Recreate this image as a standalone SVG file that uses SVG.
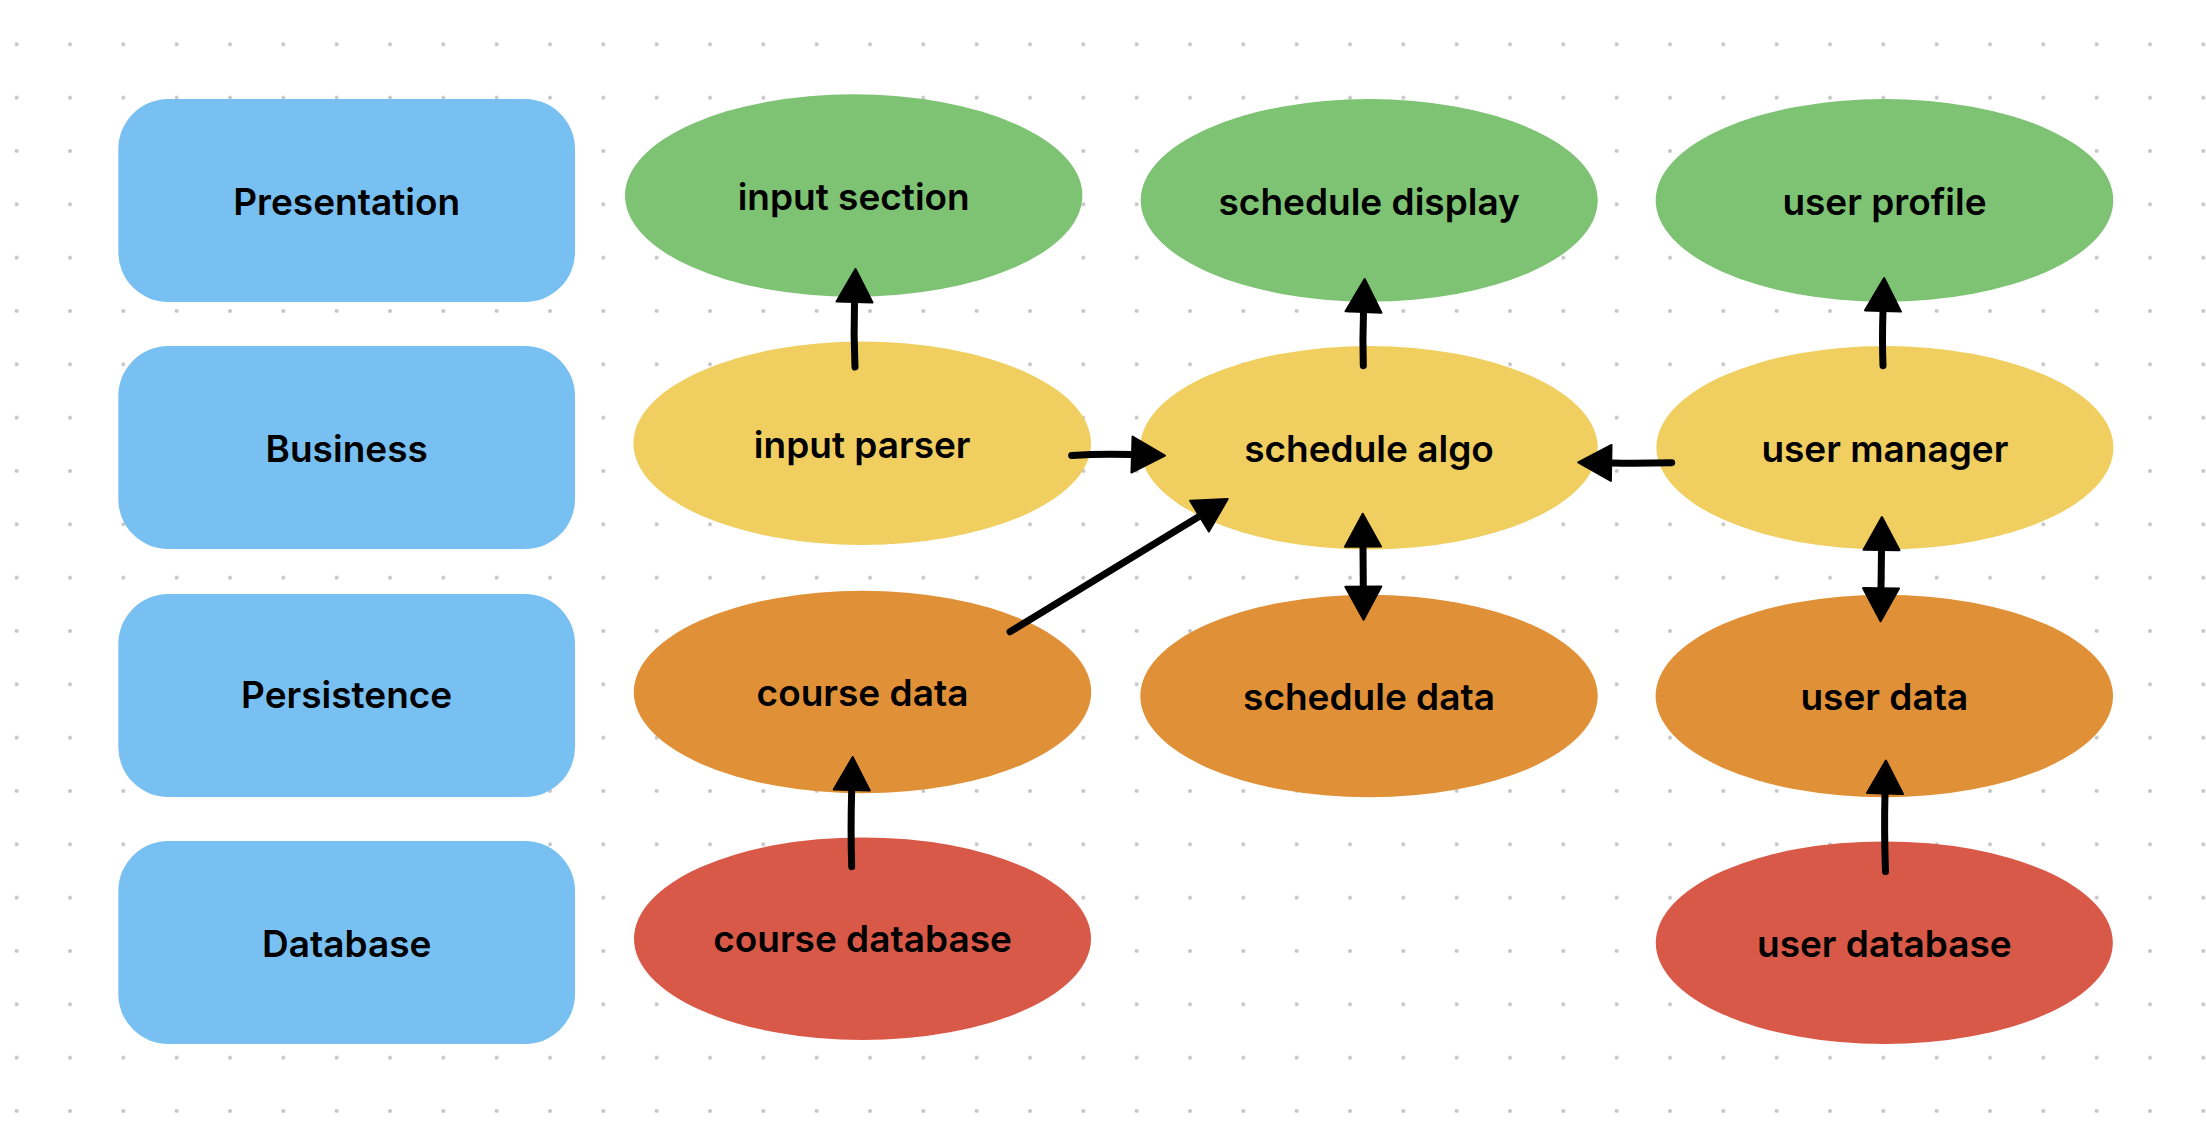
<svg xmlns="http://www.w3.org/2000/svg" width="2206" height="1138" viewBox="0 0 2206 1138">
  <style>
    .layer { fill: #78C0F1; }
    .pres { fill: #7DC373; }
    .biz { fill: #F0CF60; }
    .pers { fill: #E09036; }
    .db { fill: #D95948; }
    text { font-family: Inter, "Noto Sans", "Liberation Sans", sans-serif; font-weight: 600; font-size: 37px; fill: #000; text-anchor: middle; }
    .conn { fill: none; stroke: #000; stroke-width: 7; stroke-linecap: round; stroke-linejoin: round; }
  </style>
  <defs>
    <pattern id="dots" x="-10" y="17.67" width="53.333" height="53.333" patternUnits="userSpaceOnUse">
      <circle cx="26.67" cy="26.67" r="2" fill="#C4C4C4"/>
    </pattern>
    <marker id="head" markerUnits="userSpaceOnUse" viewBox="-2 -20 38 40" refX="0" refY="0" markerWidth="38" markerHeight="40" orient="auto-start-reverse" overflow="visible">
      <path d="M0,-18 L33,0 L0,18 Z" fill="#000" stroke="#000" stroke-width="2" stroke-linejoin="round"/>
    </marker>
  </defs>
  <rect width="2206" height="1138" fill="#FFFFFF"/>
  <rect width="2206" height="1138" fill="url(#dots)"/>

  <g id="layer-presentation"><rect class="layer" x="118.3" y="99" width="456.7" height="203" rx="50"/><text x="346.7" y="214.5">Presentation</text></g>
  <g id="layer-business"><rect class="layer" x="118.3" y="346" width="456.7" height="203" rx="50"/><text x="346.7" y="461.7">Business</text></g>
  <g id="layer-persistence"><rect class="layer" x="118.3" y="594" width="456.7" height="203" rx="50"/><text x="346.7" y="708.3">Persistence</text></g>
  <g id="layer-database"><rect class="layer" x="118.3" y="841" width="456.7" height="203" rx="50"/><text x="346.7" y="956.7">Database</text></g>

  <g id="input-section"><ellipse class="pres" cx="853.7" cy="195.5" rx="228.7" ry="101.2"/><text x="853.7" y="210">input section</text></g>
  <g id="schedule-display"><ellipse class="pres" cx="1369.2" cy="200.3" rx="228.5" ry="101.3"/><text x="1369.2" y="215">schedule display</text></g>
  <g id="user-profile"><ellipse class="pres" cx="1884.5" cy="200.3" rx="228.8" ry="101.3"/><text x="1884.5" y="215">user profile</text></g>

  <g id="input-parser"><ellipse class="biz" cx="862.2" cy="443.3" rx="228.8" ry="101.7"/><text x="862.2" y="457.7">input parser</text></g>
  <g id="schedule-algo"><ellipse class="biz" cx="1369" cy="447.7" rx="228.7" ry="101.7"/><text x="1369" y="461.7">schedule algo</text></g>
  <g id="user-manager"><ellipse class="biz" cx="1884.9" cy="447.7" rx="228.5" ry="101.7"/><text x="1884.9" y="462.2">user manager</text></g>

  <g id="course-data"><ellipse class="pers" cx="862.5" cy="692" rx="228.7" ry="101.3"/><text x="862.5" y="706">course data</text></g>
  <g id="schedule-data"><ellipse class="pers" cx="1369" cy="696" rx="228.7" ry="101.3"/><text x="1369" y="710">schedule data</text></g>
  <g id="user-data"><ellipse class="pers" cx="1884.3" cy="696" rx="228.7" ry="101.3"/><text x="1884.3" y="710">user data</text></g>

  <g id="course-database"><ellipse class="db" cx="862.5" cy="938.7" rx="228.5" ry="101.3"/><text x="862.5" y="952">course database</text></g>
  <g id="user-database"><ellipse class="db" cx="1884.3" cy="942.7" rx="228.5" ry="101.3"/><text x="1884.3" y="957">user database</text></g>

  <g id="connectors">
    <path class="conn" d="M855,367 Q853.5,335 854.5,302" marker-end="url(#head)"/>
    <path class="conn" d="M1363.3,365.7 Q1362.5,340 1363.5,312" marker-end="url(#head)"/>
    <path class="conn" d="M1883,365.7 Q1882,340 1883,311" marker-end="url(#head)"/>
    <path class="conn" d="M1071.7,455.5 Q1100,453.5 1132,454.5" marker-end="url(#head)"/>
    <path class="conn" d="M1010,631.7 L1199.5,516.2" marker-end="url(#head)"/>
    <path class="conn" d="M1363,546.7 L1363.3,586.7" marker-start="url(#head)" marker-end="url(#head)"/>
    <path class="conn" d="M1671.7,462.7 Q1640,463.5 1611.2,463" marker-end="url(#head)"/>
    <path class="conn" d="M1881.5,550 L1881,588.3" marker-start="url(#head)" marker-end="url(#head)"/>
    <path class="conn" d="M1885.5,871.6 Q1884,830 1885,793.5" marker-end="url(#head)"/>
    <path class="conn" d="M851.7,866.7 Q850.5,830 851.7,790" marker-end="url(#head)"/>
  </g>
</svg>
